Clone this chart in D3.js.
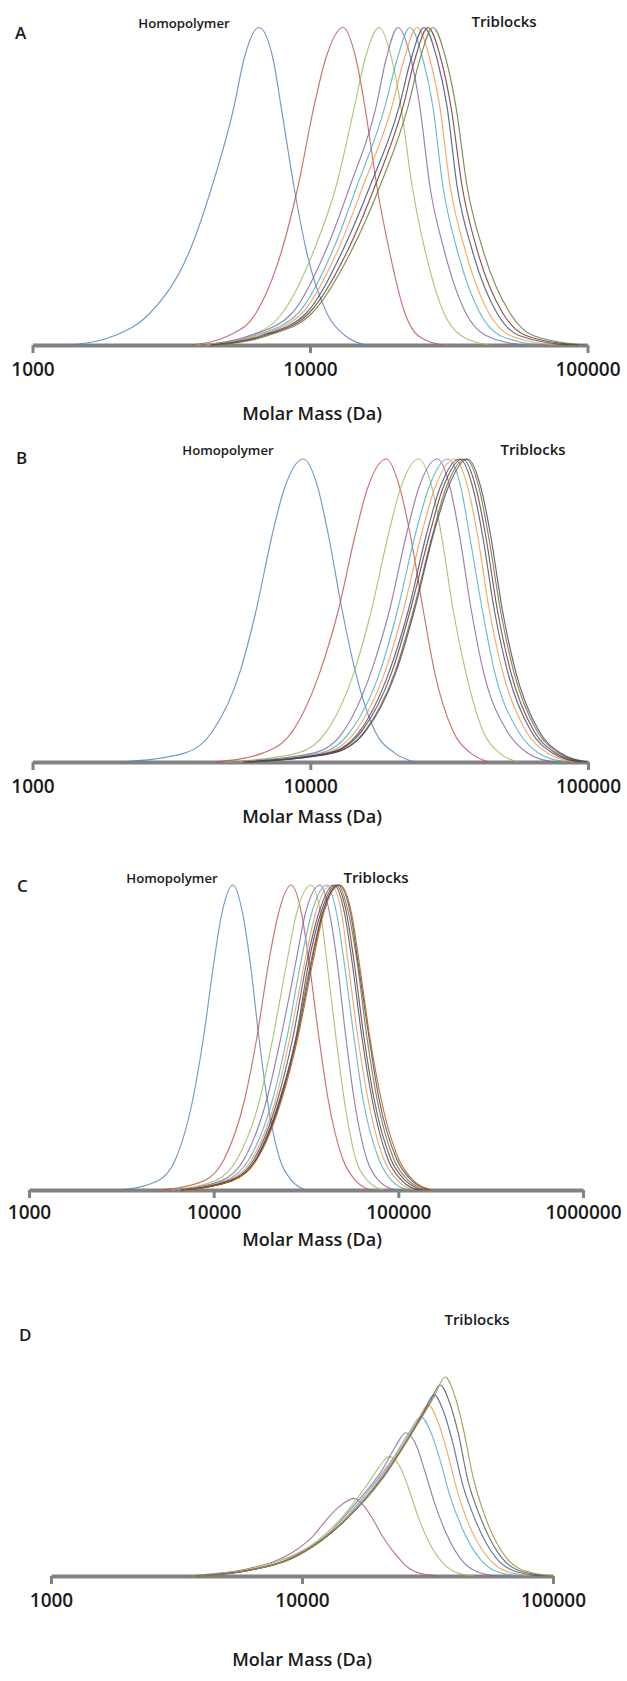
<!DOCTYPE html>
<html>
<head>
<meta charset="utf-8">
<script src="https://cdn.jsdelivr.net/npm/d3@7"></script>
<style>
  html, body { margin: 0; padding: 0; background: #ffffff; }
  svg { display: block; }
  text { font-family: "Open Sans", "Liberation Sans", sans-serif; fill: #1a1a1a; }
</style>
</head>
<body>
<svg id="chart" width="627" height="1681"></svg>
<script>
// Fraction of each trace's own peak height at which its molar mass was read:
// left foot ... peak ... right foot.
const levels = [0, 0.03, 0.1, 0.3, 0.5, 0.75, 0.9, 1, 0.9, 0.75, 0.5, 0.3, 0.1, 0.03, 0];

// log10(M / Da) of each trace at the levels above.
// Panel A: homopolymer followed by the triblock samples
const seriesA = [
  [3.135, 3.297, 3.423, 3.568, 3.647, 3.726, 3.762, 3.816, 3.867, 3.896, 3.942, 3.986, 4.061, 4.126, 4.198],
  [3.571, 3.708, 3.805, 3.899, 3.957, 4.014, 4.056, 4.119, 4.166, 4.198, 4.241, 4.285, 4.342, 4.389, 4.479],
  [3.590, 3.790, 3.900, 4.015, 4.094, 4.160, 4.198, 4.249, 4.295, 4.328, 4.368, 4.414, 4.483, 4.544, 4.645],
  [3.604, 3.784, 3.935, 4.058, 4.144, 4.238, 4.274, 4.317, 4.364, 4.396, 4.432, 4.483, 4.562, 4.634, 4.768],
  [3.622, 3.802, 3.957, 4.083, 4.169, 4.270, 4.314, 4.360, 4.407, 4.443, 4.479, 4.530, 4.613, 4.685, 4.829],
  [3.629, 3.813, 3.971, 4.101, 4.191, 4.295, 4.339, 4.386, 4.432, 4.468, 4.505, 4.559, 4.645, 4.721, 4.883],
  [3.640, 3.827, 3.986, 4.119, 4.216, 4.321, 4.364, 4.411, 4.458, 4.494, 4.530, 4.584, 4.674, 4.753, 4.933],
  [3.647, 3.838, 3.996, 4.137, 4.234, 4.335, 4.378, 4.425, 4.472, 4.508, 4.548, 4.602, 4.695, 4.778, 4.966],
  [3.658, 3.849, 4.007, 4.151, 4.252, 4.353, 4.396, 4.443, 4.490, 4.526, 4.566, 4.623, 4.721, 4.804, 4.991]
];

// Panel B
const seriesB = [
  [3.323, 3.550, 3.647, 3.748, 3.805, 3.863, 3.906, 3.975, 4.029, 4.065, 4.115, 4.162, 4.234, 4.303, 4.375],
  [3.658, 3.831, 3.935, 4.036, 4.101, 4.162, 4.205, 4.274, 4.324, 4.360, 4.407, 4.447, 4.515, 4.577, 4.641],
  [3.694, 3.957, 4.058, 4.159, 4.220, 4.281, 4.324, 4.389, 4.440, 4.472, 4.515, 4.559, 4.623, 4.681, 4.750],
  [3.719, 4.014, 4.119, 4.220, 4.285, 4.346, 4.389, 4.458, 4.505, 4.537, 4.580, 4.623, 4.710, 4.782, 4.876],
  [3.733, 4.040, 4.144, 4.252, 4.314, 4.378, 4.425, 4.494, 4.544, 4.573, 4.620, 4.663, 4.750, 4.822, 4.919],
  [3.748, 4.054, 4.162, 4.270, 4.335, 4.400, 4.447, 4.519, 4.569, 4.602, 4.645, 4.692, 4.778, 4.854, 4.951],
  [3.755, 4.068, 4.177, 4.285, 4.353, 4.418, 4.465, 4.537, 4.587, 4.620, 4.663, 4.710, 4.796, 4.872, 4.969],
  [3.762, 4.072, 4.184, 4.295, 4.360, 4.429, 4.476, 4.548, 4.598, 4.631, 4.674, 4.721, 4.807, 4.883, 4.980],
  [3.769, 4.083, 4.195, 4.306, 4.371, 4.440, 4.487, 4.559, 4.609, 4.641, 4.685, 4.732, 4.818, 4.894, 4.991],
  [3.777, 4.083, 4.198, 4.310, 4.375, 4.443, 4.494, 4.566, 4.616, 4.649, 4.692, 4.739, 4.825, 4.901, 4.998]
];

// Panel C
const seriesC = [
  [3.498, 3.698, 3.793, 3.888, 3.945, 4.002, 4.042, 4.105, 4.159, 4.197, 4.245, 4.289, 4.359, 4.424, 4.500],
  [3.715, 3.947, 4.056, 4.169, 4.234, 4.299, 4.348, 4.419, 4.478, 4.516, 4.570, 4.619, 4.700, 4.770, 4.846],
  [3.769, 4.007, 4.126, 4.251, 4.321, 4.397, 4.446, 4.527, 4.581, 4.613, 4.662, 4.706, 4.770, 4.835, 4.917],
  [3.791, 4.040, 4.164, 4.289, 4.364, 4.446, 4.494, 4.576, 4.630, 4.668, 4.716, 4.760, 4.830, 4.895, 4.982],
  [3.801, 4.061, 4.191, 4.321, 4.397, 4.473, 4.527, 4.613, 4.668, 4.706, 4.760, 4.808, 4.895, 4.965, 5.052],
  [3.812, 4.072, 4.207, 4.337, 4.413, 4.494, 4.548, 4.635, 4.695, 4.727, 4.781, 4.835, 4.922, 4.998, 5.084],
  [3.818, 4.083, 4.218, 4.348, 4.429, 4.505, 4.565, 4.651, 4.711, 4.749, 4.803, 4.857, 4.944, 5.020, 5.112],
  [3.828, 4.094, 4.229, 4.359, 4.446, 4.516, 4.576, 4.662, 4.722, 4.760, 4.814, 4.868, 4.960, 5.041, 5.128],
  [3.828, 4.094, 4.229, 4.364, 4.446, 4.527, 4.586, 4.673, 4.733, 4.776, 4.830, 4.884, 4.976, 5.057, 5.149],
  [3.823, 4.094, 4.229, 4.364, 4.451, 4.532, 4.586, 4.678, 4.743, 4.781, 4.841, 4.895, 4.992, 5.074, 5.166],
  [3.828, 4.099, 4.234, 4.370, 4.456, 4.538, 4.592, 4.684, 4.749, 4.787, 4.846, 4.906, 5.003, 5.084, 5.182]
];

// Panel D: triblock samples only, each with its own peak height
const seriesD = [
  [3.554, 3.653, 3.793, 3.960, 4.040, 4.104, 4.151, 4.207, 4.247, 4.279, 4.323, 4.367, 4.426, 4.474, 4.542],
  [3.562, 3.721, 3.873, 4.064, 4.163, 4.255, 4.303, 4.347, 4.394, 4.422, 4.462, 4.502, 4.566, 4.614, 4.689],
  [3.566, 3.753, 3.920, 4.108, 4.211, 4.323, 4.371, 4.414, 4.458, 4.486, 4.530, 4.574, 4.641, 4.697, 4.781],
  [3.566, 3.769, 3.940, 4.136, 4.247, 4.367, 4.426, 4.474, 4.514, 4.546, 4.590, 4.638, 4.713, 4.773, 4.869],
  [3.570, 3.777, 3.952, 4.151, 4.275, 4.394, 4.458, 4.502, 4.542, 4.574, 4.618, 4.665, 4.745, 4.809, 4.916],
  [3.570, 3.785, 3.964, 4.167, 4.295, 4.418, 4.482, 4.526, 4.566, 4.598, 4.641, 4.693, 4.773, 4.841, 4.952],
  [3.574, 3.789, 3.972, 4.179, 4.315, 4.438, 4.506, 4.550, 4.590, 4.622, 4.661, 4.713, 4.793, 4.861, 4.980],
  [3.574, 3.793, 3.980, 4.187, 4.327, 4.454, 4.526, 4.570, 4.610, 4.641, 4.681, 4.729, 4.809, 4.877, 5.000]
];
const peaksD = [0.39, 0.60, 0.72, 0.80, 0.86, 0.91, 0.96, 1.00];

// Axis ticks
const ticks3 = [1000, 10000, 100000];
const ticks4 = [1000, 10000, 100000, 1000000];

const seriesColors = ["#4F81BD", "#C0504D", "#9BBB59", "#8064A2", "#4BACC6", "#F79646",
                      "#2C4D75", "#772C2A", "#5F7530", "#4D3B62", "#B65708"];
const colorsD = ["#A8577E", "#9BBB59", "#8064A2", "#4BACC6", "#F79646", "#3B5C96", "#4F5560", "#A08A3A"];

const panels = [
  { letter: "A", series: seriesA, peaks: null, colors: seriesColors, domain: [1e3, 1e5], ticks: ticks3,
    xRange: [32.5, 587.5], base: 345, top: 27.5,
    letterPos: [15, 39], homoPos: [184, 28], triPos: [504, 27], tickBase: 31, titleY: 420, titleX: 312 },
  { letter: "B", series: seriesB, peaks: null, colors: seriesColors, domain: [1e3, 1e5], ticks: ticks3,
    xRange: [32.5, 588], base: 762, top: 459,
    letterPos: [16, 464], homoPos: [228, 455], triPos: [533, 455], tickBase: 31, titleY: 823, titleX: 312 },
  { letter: "C", series: seriesC, peaks: null, colors: seriesColors, domain: [1e3, 1e6], ticks: ticks4,
    xRange: [29, 583], base: 1190, top: 885,
    letterPos: [17, 892], homoPos: [172, 883], triPos: [376, 883], tickBase: 29, titleY: 1246, titleX: 312 },
  { letter: "D", series: seriesD, peaks: peaksD, colors: colorsD, domain: [1e3, 1e5], ticks: ticks3,
    xRange: [51, 553], base: 1576, top: 1377,
    letterPos: [19, 1341], homoPos: null, triPos: [477, 1325], tickBase: 31, titleY: 1666, titleX: 302 }
];

const svg = d3.select("#chart");

panels.forEach(p => {
  const x = d3.scaleLog().domain(p.domain).range(p.xRange);
  const y = d3.scaleLinear().domain([0, 1]).range([p.base, p.top]);
  const g = svg.append("g").attr("class", "panel-" + p.letter);

  // molar-mass axis
  const axis = d3.axisBottom(x)
    .tickValues(p.ticks)
    .tickSize(8)
    .tickSizeOuter(0)
    .tickFormat(d3.format("d"));
  const ax = g.append("g")
    .attr("transform", `translate(0,${p.base})`)
    .call(axis);
  ax.select(".domain").attr("stroke", "#828282").attr("stroke-width", 4);
  ax.selectAll(".tick line").attr("stroke", "#828282").attr("stroke-width", 3);
  ax.selectAll(".tick text")
    .attr("y", p.tickBase).attr("dy", 0)
    .style("font-family", '"Open Sans", sans-serif')
    .style("font-size", "19px").style("font-weight", 600)
    .attr("fill", "#1a1a1a");

  // distribution traces
  const line = d3.line()
    .x(d => x(d[0]))
    .y(d => y(d[1]))
    .curve(d3.curveMonotoneX);

  p.series.forEach((s, i) => {
    const peak = p.peaks ? p.peaks[i] : 1;
    const pts = s.map((lm, k) => [Math.pow(10, lm), levels[k] * peak]);
    g.append("path")
      .datum(pts)
      .attr("d", line)
      .attr("fill", "none")
      .attr("stroke", p.colors[i])
      .attr("stroke-width", 1.15)
      .attr("stroke-opacity", 0.82)
      .attr("stroke-linejoin", "round");
  });

  // labels
  g.append("text").attr("x", p.letterPos[0]).attr("y", p.letterPos[1])
    .style("font-size", "17px").style("font-weight", 600).text(p.letter);
  if (p.homoPos) {
    g.append("text").attr("x", p.homoPos[0]).attr("y", p.homoPos[1])
      .attr("text-anchor", "middle")
      .style("font-size", "13.2px").style("font-weight", 600).text("Homopolymer");
  }
  g.append("text").attr("x", p.triPos[0]).attr("y", p.triPos[1])
    .attr("text-anchor", "middle")
    .style("font-size", "15px").style("font-weight", 600).text("Triblocks");
  g.append("text").attr("x", p.titleX).attr("y", p.titleY)
    .attr("text-anchor", "middle")
    .style("font-size", "18px").style("font-weight", 600).text("Molar Mass (Da)");
});
</script>
</body>
</html>
